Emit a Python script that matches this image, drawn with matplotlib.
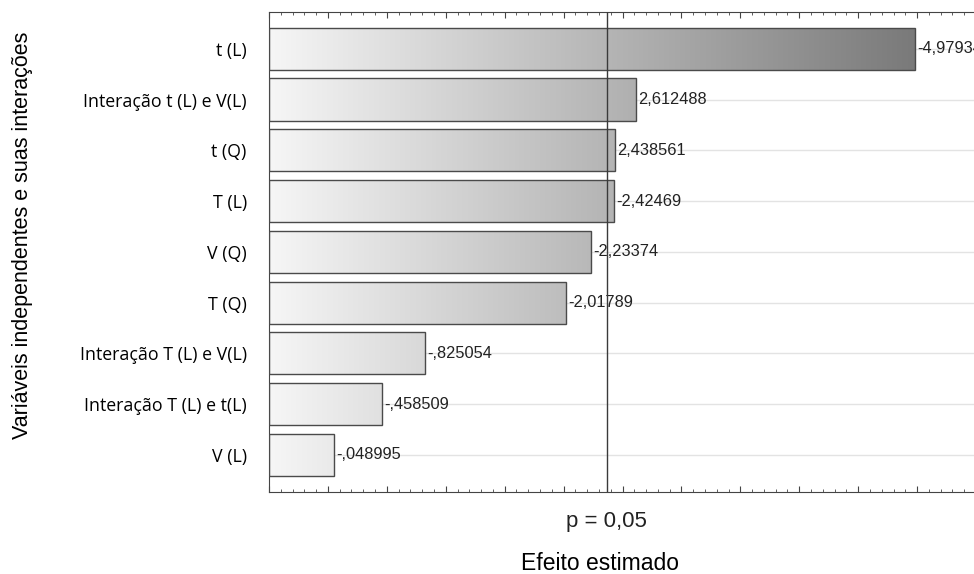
import numpy as np
import matplotlib

matplotlib.use("Agg")
import matplotlib.pyplot as plt
from matplotlib.colors import LinearSegmentedColormap
from matplotlib.ticker import MultipleLocator

# data (top to bottom)
factors = ["t (L)", "Interação t (L) e V(L)", "t (Q)", "T (L)", "V (Q)",
           "T (Q)", "Interação T (L) e V(L)", "Interação T (L) e t(L)", "V (L)"]
effects = [4.97934, 2.612488, 2.438561, 2.42469, 2.23374,
           2.01789, 0.825054, 0.458509, 0.048995]
effect_labels = ["-4,97934", "2,612488", "2,438561", "-2,42469", "-2,23374",
                 "-2,01789", "-,825054", "-,458509", "-,048995"]
p_crit = 2.365  # t critical, p = 0.05

XMIN, XMAX = -0.5, 5.5

fig = plt.figure(figsize=(9.74, 5.74), dpi=100)
ax = fig.add_axes([269 / 974, 82 / 574, (976 - 269) / 974, (492 - 11.7) / 574])

n = len(factors)
ypos = np.arange(n)[::-1]
cmap = LinearSegmentedColormap.from_list("g", ["#f6f6f6", "#6e6e6e"])
grad = np.linspace(0, 1, 256).reshape(1, -1)

for y in ypos:
    ax.axhline(y, color="#e3e3e3", lw=1, zorder=0)

for y, v, lab in zip(ypos, effects, effect_labels):
    bar = ax.barh(y, v - XMIN, left=XMIN, height=0.83, color="none",
                  edgecolor="#4a4a4a", lw=1.0, zorder=3)[0]
    im = ax.imshow(grad, cmap=cmap, aspect="auto",
                   extent=[XMIN, XMAX, y - 0.415, y + 0.415], zorder=2)
    im.set_clip_path(bar)
    ax.text(v + 0.02, y, lab, va="center", ha="left", fontsize=11.8,
            family="Liberation Sans", color="#222222", zorder=4)

ax.axvline(p_crit, color="#3a3a3a", lw=1.0, zorder=5)

ax.set_xlim(XMIN, XMAX)
ax.set_ylim(-0.73, n - 1 + 0.73)
ax.set_yticks(ypos)
ax.set_yticklabels(factors, fontsize=12.8, family="Open Sans")
ax.xaxis.set_major_locator(MultipleLocator(0.5))
ax.xaxis.set_minor_locator(MultipleLocator(0.1))
ax.tick_params(axis="x", which="both", direction="in", top=True,
               labelbottom=False, color="#444444")
ax.tick_params(axis="x", which="major", length=4)
ax.tick_params(axis="x", which="minor", length=2)
ax.tick_params(axis="y", direction="in", length=3, pad=16, color="#444444")
for s in ax.spines.values():
    s.set_color("#444444")

fig.text((269 + (p_crit - XMIN) / (XMAX - XMIN) * 707) / 974, 1 - 521 / 574,
         "p = 0,05", ha="center", va="center", fontsize=16,
         family="Liberation Sans", color="#222222")
fig.text(600 / 974, 1 - 564 / 574, "Efeito estimado", ha="center",
         va="center", fontsize=16.5, family="Liberation Sans")
fig.text(23 / 974, 1 - 235 / 574, "Variáveis independentes e suas interações",
         rotation=90, ha="center", va="center", fontsize=15.5,
         family="Liberation Sans")

fig.savefig("out.png", dpi=100)
